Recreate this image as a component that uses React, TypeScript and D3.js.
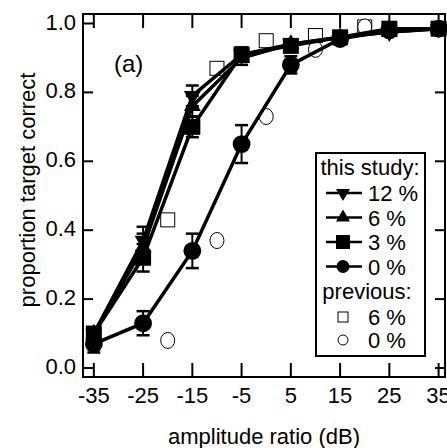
import { useRef, useEffect } from 'react';
import * as d3 from 'd3';

// amplitude ratio (dB) where each condition was measured
const dB = [-35, -25, -15, -5, 5, 15, 25, 35];
// this study: proportion correct and error bar half-widths
const p12 = [0.10, 0.37, 0.79, 0.91, 0.94, 0.96, 0.975, 0.985];
const e12 = [0.015, 0.04, 0.03, 0.02, 0.01, 0.01, 0.008, 0.005];
const p6 = [0.10, 0.35, 0.76, 0.90, 0.94, 0.96, 0.975, 0.985];
const e6 = [0.015, 0.04, 0.03, 0.02, 0.01, 0.01, 0.008, 0.005];
const p3 = [0.10, 0.32, 0.70, 0.91, 0.935, 0.96, 0.985, 0.985];
const e3 = [0.015, 0.04, 0.03, 0.02, 0.01, 0.01, 0.008, 0.005];
const p0 = [0.07, 0.13, 0.34, 0.65, 0.88, 0.955, 0.98, 0.985];
const e0 = [0.025, 0.035, 0.05, 0.055, 0.025, 0.01, 0.008, 0.005];
// previous study
const prevDB = [-20, -10, 0, 10, 20];
const prev6 = [0.43, 0.87, 0.95, 0.965, 0.99];
const prev0 = [0.08, 0.37, 0.73, 0.925, 0.99];

const xTicks = [-35, -25, -15, -5, 5, 15, 25, 35];
const yTicks = [0, 0.2, 0.4, 0.6, 0.8, 1.0];

const series = [
  { name: '12 %', vals: p12, errs: e12, sym: 'down' },
  { name: '6 %', vals: p6, errs: e6, sym: 'up' },
  { name: '3 %', vals: p3, errs: e3, sym: 'square' },
  { name: '0 %', vals: p0, errs: e0, sym: 'circle' },
];

export default function App() {
  const ref = useRef<SVGSVGElement>(null);

  useEffect(() => {
    const W = 447, H = 448;
    const L = 83, R = 445, T = 14, B = 377;
    const fs = 22;
    const svg = d3.select(ref.current)
      .attr('width', W).attr('height', H)
      .style('font-family', '"Liberation Sans", Arial, sans-serif');
    svg.selectAll('*').remove();

    const x = d3.scaleLinear().domain([-37.2, 36.3]).range([L, R]);
    const y = d3.scaleLinear().domain([0, 1]).range([368, 23.5]);

    const symPath = (sym: string, size: number) => {
      const t = sym === 'circle' ? d3.symbolCircle
        : sym === 'square' ? d3.symbolSquare : d3.symbolTriangle;
      return d3.symbol().type(t).size(size)();
    };

    // previous study open markers
    const prev = svg.append('g');
    prev.selectAll('rect.p6').data(prevDB).join('rect')
      .attr('x', (d) => x(d) - 7).attr('y', (_, i) => y(prev6[i]) - 7)
      .attr('width', 14).attr('height', 14)
      .attr('fill', '#fff').attr('stroke', '#000').attr('stroke-width', 1);
    prev.selectAll('ellipse.p0').data(prevDB).join('ellipse')
      .attr('cx', (d) => x(d)).attr('cy', (_, i) => y(prev0[i]))
      .attr('rx', 7).attr('ry', 8)
      .attr('fill', '#fff').attr('stroke', '#000').attr('stroke-width', 1);

    const line = d3.line<number>().x((_, i) => x(dB[i])).y((d) => y(d));

    series.forEach((s) => {
      const g = svg.append('g');
      g.append('path').datum(s.vals).attr('d', line)
        .attr('fill', 'none').attr('stroke', '#000').attr('stroke-width', 3.5);
      s.vals.forEach((v, i) => {
        const cx = x(dB[i]);
        const lo = y(v - s.errs[i]), hi = y(v + s.errs[i]);
        g.append('line').attr('x1', cx).attr('x2', cx).attr('y1', lo).attr('y2', hi)
          .attr('stroke', '#000').attr('stroke-width', 2);
        [lo, hi].forEach((yy) => g.append('line')
          .attr('x1', cx - 6.5).attr('x2', cx + 6.5).attr('y1', yy).attr('y2', yy)
          .attr('stroke', '#000').attr('stroke-width', 2.5));
        const size = s.sym === 'circle' ? 250 : s.sym === 'square' ? 256 : 125;
        g.append('path').attr('d', symPath(s.sym, size))
          .attr('transform', `translate(${cx},${y(v)})${s.sym === 'down' ? ' rotate(180)' : ''}`)
          .attr('fill', '#000');
      });
    });

    // frame and ticks (inward on all sides)
    svg.append('rect').attr('x', L).attr('y', T).attr('width', R - L).attr('height', B - T)
      .attr('fill', 'none').attr('stroke', '#000').attr('stroke-width', 2);
    xTicks.forEach((t) => {
      svg.append('line').attr('x1', x(t)).attr('x2', x(t)).attr('y1', B).attr('y2', B - 14)
        .attr('stroke', '#000').attr('stroke-width', 2);
      svg.append('line').attr('x1', x(t)).attr('x2', x(t)).attr('y1', T).attr('y2', T + 14)
        .attr('stroke', '#000').attr('stroke-width', 2);
      svg.append('text').attr('x', x(t)).attr('y', 403).attr('text-anchor', 'middle')
        .attr('font-size', fs).text(t);
    });
    yTicks.forEach((t) => {
      svg.append('line').attr('x1', L).attr('x2', L + 10).attr('y1', y(t)).attr('y2', y(t))
        .attr('stroke', '#000').attr('stroke-width', 2);
      svg.append('line').attr('x1', R).attr('x2', R - 10).attr('y1', y(t)).attr('y2', y(t))
        .attr('stroke', '#000').attr('stroke-width', 2);
      svg.append('text').attr('x', 76).attr('y', y(t) + 6).attr('text-anchor', 'end')
        .attr('font-size', fs).text(t.toFixed(1));
    });

    svg.append('text').attr('x', 264).attr('y', 444).attr('text-anchor', 'middle')
      .attr('font-size', fs).text('amplitude ratio (dB)');
    svg.append('text').attr('transform', 'translate(35,190) rotate(-90)')
      .attr('text-anchor', 'middle').attr('font-size', fs).text('proportion target correct');
    svg.append('text').attr('x', 114).attr('y', 72).attr('font-size', 24).text('(a)');

    // legend
    const lg = svg.append('g');
    lg.append('rect').attr('x', 316).attr('y', 153).attr('width', 109).attr('height', 203)
      .attr('fill', '#fff').attr('stroke', '#000').attr('stroke-width', 2);
    lg.append('text').attr('x', 370).attr('y', 175).attr('text-anchor', 'middle')
      .attr('font-size', fs).text('this study:');
    series.forEach((s, i) => {
      const yy = 193 + i * 24.5;
      lg.append('line').attr('x1', 326).attr('x2', 362).attr('y1', yy).attr('y2', yy)
        .attr('stroke', '#000').attr('stroke-width', 2.5);
      const size = s.sym === 'circle' ? 133 : s.sym === 'square' ? 196 : 85;
      lg.append('path').attr('d', symPath(s.sym, size))
        .attr('transform', `translate(343,${yy})${s.sym === 'down' ? ' rotate(180)' : ''}`)
        .attr('fill', '#000');
      lg.append('text').attr('x', 368).attr('y', yy + 8).attr('font-size', fs).text(s.name);
    });
    lg.append('text').attr('x', 367).attr('y', 299).attr('text-anchor', 'middle')
      .attr('font-size', fs).text('previous:');
    lg.append('rect').attr('x', 338).attr('y', 312).attr('width', 10).attr('height', 10)
      .attr('fill', '#fff').attr('stroke', '#000').attr('stroke-width', 1);
    lg.append('text').attr('x', 368).attr('y', 325).attr('font-size', fs).text('6 %');
    lg.append('circle').attr('cx', 343).attr('cy', 340).attr('r', 5)
      .attr('fill', '#fff').attr('stroke', '#000').attr('stroke-width', 1);
    lg.append('text').attr('x', 368).attr('y', 348).attr('font-size', fs).text('0 %');
  }, []);

  return <svg ref={ref} style={{ position: 'absolute', left: 0, top: 0 }}></svg>;
}
